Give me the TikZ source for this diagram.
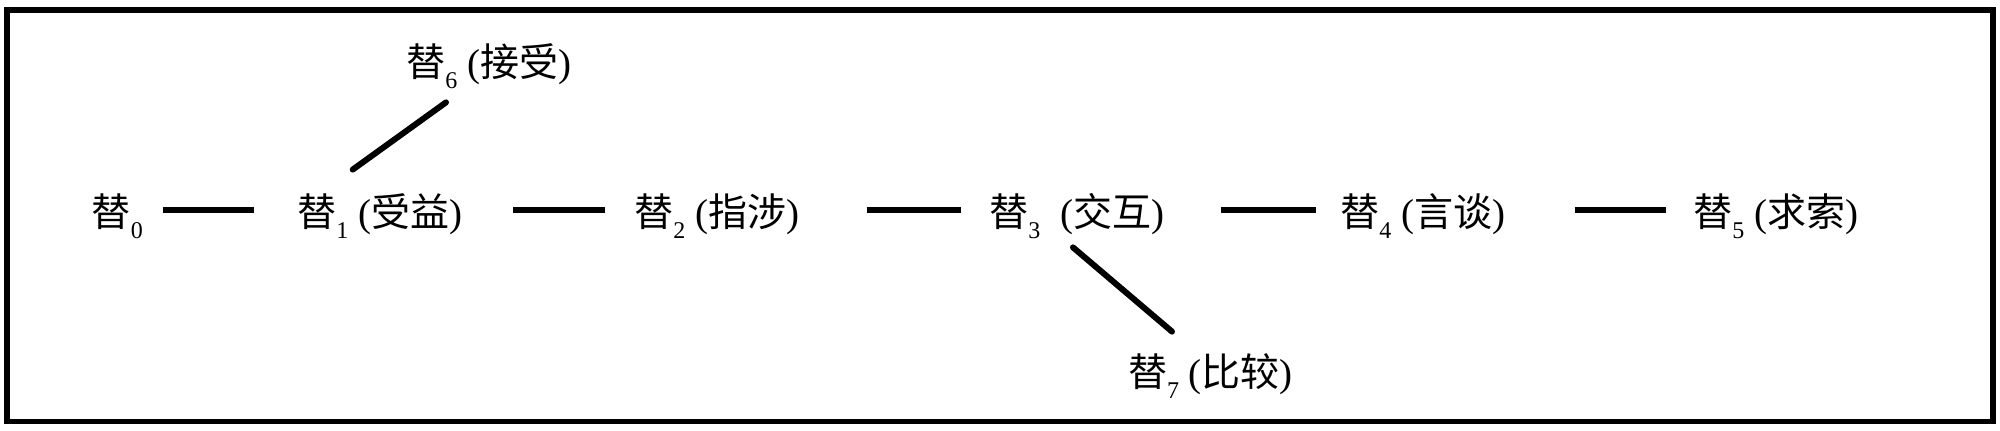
\documentclass[tikz,border=0pt]{standalone}
\usepackage{fontspec}
\setmainfont{Liberation Serif}
\newfontfamily\cjk{Noto Sans CJK SC}
\newcommand\tisub[1]{\raisebox{-6pt}{\fontsize{12}{12}\selectfont #1}}
\newcommand\tichar{{\cjk 替}}
\begin{document}
\begin{tikzpicture}[x=0.5pt,y=-0.5pt,
  lbl/.style={inner sep=0pt, anchor=base west, text height=17pt, text depth=0pt,
              font=\fontsize{19.5}{22}\selectfont},
  hline/.style={line width=3pt, line cap=butt},
  dline/.style={line width=3pt, line cap=round},
  frame/.style={line width=2.75pt}]
\useasboundingbox (0,0) rectangle (2000,431);
\draw[frame] (7,10) rectangle (1993,421.5);
% nodes
\node[lbl] (n0) at (91.5,227) {\tichar\tisub{0}};
\node[lbl] (n1) at (297,227) {\tichar\tisub{1} ({\cjk 受益})};
\node[lbl] (n2) at (634,227) {\tichar\tisub{2} ({\cjk 指涉})};
\node[lbl] (n3) at (989,227) {\tichar\tisub{3}\hspace{5pt} ({\cjk 交互})};
\node[lbl] (n4) at (1340,227) {\tichar\tisub{4} ({\cjk 言谈})};
\node[lbl] (n5) at (1693,227) {\tichar\tisub{5} ({\cjk 求索})};
\node[lbl] (n6) at (406,77) {\tichar\tisub{6} ({\cjk 接受})};
\node[lbl] (n7) at (1127.7,387) {\tichar\tisub{7} ({\cjk 比较})};
% horizontal connectors
\draw[hline] ([shift={(71.5,0)}]n0.west) -- ([shift={(-43,0)}]n1.west);
\draw[hline] ([shift={(216,0)}]n1.west) -- ([shift={(-29,0)}]n2.west);
\draw[hline] ([shift={(232.5,0)}]n2.west) -- ([shift={(-28,0)}]n3.west);
\draw[hline] ([shift={(232,0)}]n3.west) -- ([shift={(-24,0)}]n4.west);
\draw[hline] ([shift={(234.5,0)}]n4.west) -- ([shift={(-27,0)}]n5.west);
% diagonal connectors
\draw[dline] ([shift={(55.7,-23)}]n1.north west) -- ([shift={(40,25)}]n6.south west);
\draw[dline] ([shift={(84,20)}]n3.south west) -- ([shift={(44.3,-21)}]n7.north west);
\end{tikzpicture}
\end{document}
